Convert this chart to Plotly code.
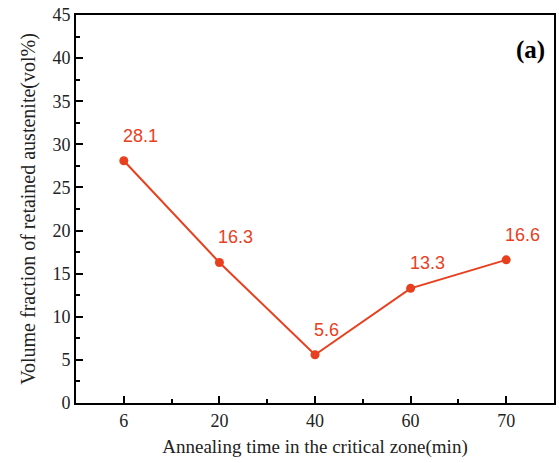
import plotly.graph_objects as go

categories = ["6", "20", "40", "60", "70"]
values = [28.1, 16.3, 5.6, 13.3, 16.6]
y_ticks = [0, 5, 10, 15, 20, 25, 30, 35, 40, 45]

xpos = list(range(len(categories)))
red = "#e8401e"

fig = go.Figure()
fig.add_trace(go.Scatter(
    x=xpos, y=values, mode="lines+markers",
    line=dict(color=red, width=2),
    marker=dict(color=red, size=9),
    showlegend=False,
))
for xi, v in zip(xpos, values):
    fig.add_annotation(x=xi, y=v, text=f"{v}", showarrow=False,
                       xanchor="left", yanchor="middle", xshift=-3, yshift=25,
                       font=dict(family="Liberation Sans, Arial", size=18, color=red))

fig.add_annotation(x=0.985, y=0.91, xref="paper", yref="paper", text="<b>(a)</b>",
                   showarrow=False, xanchor="right", yanchor="middle",
                   font=dict(family="Liberation Serif, Times New Roman", size=25, color="black"))

axis_common = dict(
    showline=True, linecolor="black", linewidth=1.8, mirror=True,
    ticks="inside", ticklen=7, tickwidth=1.5, tickcolor="black",
    showgrid=False, zeroline=False,
    tickfont=dict(family="Liberation Serif, Times New Roman", size=18, color="#222"),
)

fig.update_xaxes(
    range=[-0.5, len(categories) - 0.5],
    tickmode="array", tickvals=xpos, ticktext=categories,
    minor=dict(ticks="inside", ticklen=4, tickwidth=1.5, tickcolor="black",
               tickmode="array", tickvals=[i + 0.5 for i in xpos[:-1]]),
    title=dict(text="Annealing time in the critical zone(min)", standoff=10,
               font=dict(family="Liberation Serif, Times New Roman", size=19, color="#222")),
    **axis_common,
)
fig.update_yaxes(
    range=[0, 45],
    tickmode="array", tickvals=y_ticks,
    minor=dict(ticks="inside", ticklen=4, tickwidth=1.5, tickcolor="black",
               tickmode="array", tickvals=[t + 2.5 for t in y_ticks[:-1]]),
    title=dict(text="Volume fraction of retained austenite(vol%)", standoff=12,
               font=dict(family="Liberation Serif, Times New Roman", size=20, color="#222")),
    **axis_common,
)

fig.update_layout(
    width=559, height=463,
    margin=dict(l=76, r=3, t=15, b=60),
    paper_bgcolor="white", plot_bgcolor="white",
)

fig.write_html("out.html")
